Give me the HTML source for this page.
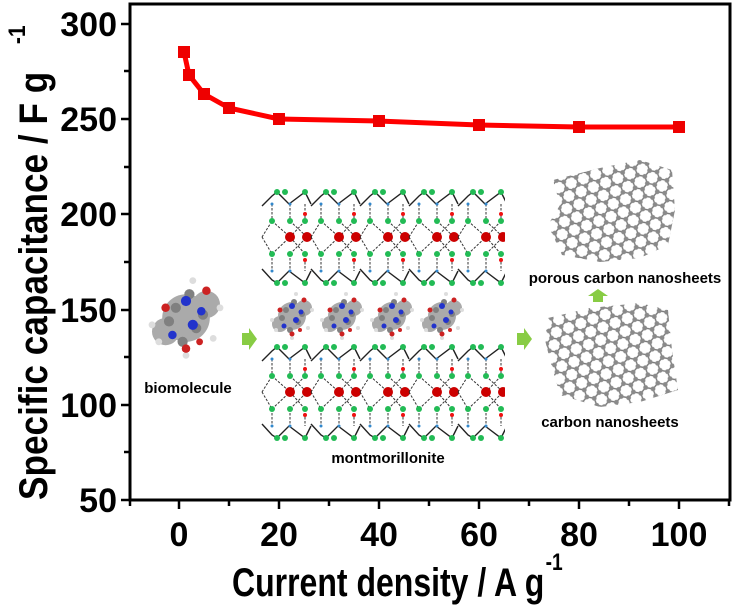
<!DOCTYPE html>
<html><head><meta charset="utf-8"><style>
html,body{margin:0;padding:0;background:#fff;}
svg{display:block;}
text{font-family:"Liberation Sans",sans-serif;font-weight:bold;fill:#000;}
</style></head><body>
<svg width="735" height="607" viewBox="0 0 735 607" xmlns="http://www.w3.org/2000/svg">
<defs>
<pattern id="hex" width="12.99" height="22.5" patternUnits="userSpaceOnUse" patternTransform="rotate(-20)">
 <g stroke="#777" stroke-width="1.4" fill="none">
  <path d="M6.5 0 L0 3.75 L0 11.25 L6.5 15 L13 11.25 L13 3.75 Z M6.5 15 L6.5 22.5"/>
 </g>
 <g fill="#8a8a8a">
  <circle cx="6.5" cy="0" r="2.4"/><circle cx="0" cy="3.75" r="2.4"/><circle cx="13" cy="3.75" r="2.4"/>
  <circle cx="0" cy="11.25" r="2.4"/><circle cx="13" cy="11.25" r="2.4"/><circle cx="6.5" cy="15" r="2.4"/><circle cx="6.5" cy="22.5" r="2.4"/>
 </g>
</pattern>
<g id="unit">
 <g stroke="#222" stroke-width="1.4" fill="none">
  <polyline points="0,14 10,4 15,0 27,12 43,0 49,12"/>
  <polyline points="0,77 10,88 15,91 27,79 43,91 49,79"/>
 </g>
 <g stroke="#333" stroke-width="1" stroke-dasharray="2.5,1.5" fill="none">
  <line x1="10" y1="12" x2="10" y2="29"/><line x1="28" y1="12" x2="28" y2="29"/><line x1="43" y1="12" x2="43" y2="29"/>
  <line x1="10" y1="29" x2="28" y2="45"/><line x1="28" y1="29" x2="45" y2="45"/><line x1="43" y1="29" x2="28" y2="45"/>
  <line x1="10" y1="62" x2="28" y2="45"/><line x1="28" y1="62" x2="45" y2="45"/><line x1="43" y1="62" x2="28" y2="45"/>
  <line x1="10" y1="62" x2="10" y2="79"/><line x1="28" y1="62" x2="28" y2="79"/><line x1="43" y1="62" x2="43" y2="79"/>
  <line x1="0" y1="45" x2="10" y2="29"/><line x1="0" y1="45" x2="10" y2="62"/>
 </g>
 <g fill="#22bb55">
  <circle cx="15" cy="0" r="3"/><circle cx="23" cy="0" r="3"/><circle cx="43" cy="0" r="3"/>
  <circle cx="10" cy="29" r="3"/><circle cx="28" cy="29" r="3"/><circle cx="43" cy="29" r="3"/>
  <circle cx="10" cy="62" r="3"/><circle cx="28" cy="62" r="3"/><circle cx="43" cy="62" r="3"/>
  <circle cx="15" cy="91" r="3"/><circle cx="23" cy="91" r="3"/><circle cx="43" cy="91" r="3"/>
 </g>
 <g fill="#3388cc"><circle cx="10" cy="12" r="1.5"/><circle cx="28" cy="12" r="1.5"/><circle cx="10" cy="79" r="1.5"/><circle cx="28" cy="79" r="1.5"/></g>
 <g fill="#cc0000"><circle cx="28" cy="45" r="5"/><circle cx="45" cy="45" r="5"/></g>
 <g fill="#ee1111"><circle cx="43" cy="22" r="2"/><circle cx="43" cy="68" r="2"/></g>
</g>
<g id="layer">
 <use href="#unit" x="0"/><use href="#unit" x="49"/><use href="#unit" x="98"/><use href="#unit" x="147"/><use href="#unit" x="196"/>
</g>
<g id="mol">
 <g fill="#aaa"><circle cx="0" cy="0" r="14"/><circle cx="-12" cy="8" r="8"/><circle cx="12" cy="-8" r="8"/></g>
 <g fill="#ddd"><circle cx="-20" cy="4" r="2"/><circle cx="20" cy="-6" r="2"/><circle cx="-16" cy="14" r="2"/><circle cx="16" cy="12" r="2"/><circle cx="0" cy="22" r="2"/><circle cx="4" cy="-22" r="2"/></g>
 <g fill="#808080"><circle cx="-6" cy="-6" r="3"/><circle cx="6" cy="6" r="3"/><circle cx="-10" cy="2" r="3"/><circle cx="10" cy="-2" r="3"/><circle cx="2" cy="-14" r="3"/><circle cx="-2" cy="14" r="3"/></g>
 <g fill="#2233cc"><circle cx="0" cy="-10" r="3"/><circle cx="4" cy="4" r="3"/><circle cx="-8" cy="10" r="2.5"/><circle cx="9" cy="-4" r="2.5"/></g>
 <g fill="#cc2222"><circle cx="-12" cy="-6" r="2.5"/><circle cx="12" cy="-16" r="2.5"/><circle cx="0" cy="18" r="2.5"/><circle cx="8" cy="14" r="2"/></g>
</g>
<clipPath id="c1"><polygon points="553,180 600,168 640,160 672,170 675,210 668,245 640,258 600,262 562,255 548,225 560,205"/></clipPath>
<clipPath id="c2"><polygon points="548,318 590,308 640,303 668,310 672,350 678,390 640,402 600,407 560,395 550,360 545,340"/></clipPath>
</defs>

<g stroke="#000" stroke-width="3" fill="none">
 <rect x="130" y="4" width="600" height="496"/>
</g>
<g stroke="#000" stroke-width="2.5">
 <line x1="179" y1="500" x2="179" y2="509"/><line x1="279" y1="500" x2="279" y2="509"/><line x1="379" y1="500" x2="379" y2="509"/><line x1="479" y1="500" x2="479" y2="509"/><line x1="579" y1="500" x2="579" y2="509"/><line x1="679" y1="500" x2="679" y2="509"/>
 <line x1="229" y1="500" x2="229" y2="506"/><line x1="329" y1="500" x2="329" y2="506"/><line x1="429" y1="500" x2="429" y2="506"/><line x1="529" y1="500" x2="529" y2="506"/><line x1="629" y1="500" x2="629" y2="506"/><line x1="729" y1="500" x2="729" y2="506"/>
 <line x1="130" y1="500" x2="130" y2="506"/>
 <line x1="121" y1="500" x2="130" y2="500"/><line x1="121" y1="405" x2="130" y2="405"/><line x1="121" y1="310" x2="130" y2="310"/><line x1="121" y1="214" x2="130" y2="214"/><line x1="121" y1="119" x2="130" y2="119"/><line x1="121" y1="24" x2="130" y2="24"/>
 <line x1="124" y1="452" x2="130" y2="452"/><line x1="124" y1="357" x2="130" y2="357"/><line x1="124" y1="262" x2="130" y2="262"/><line x1="124" y1="167" x2="130" y2="167"/><line x1="124" y1="71" x2="130" y2="71"/>
</g>
<g font-size="34" text-anchor="end">
 <text x="117" y="512">50</text>
 <text x="117" y="417">100</text>
 <text x="117" y="322">150</text>
 <text x="117" y="226">200</text>
 <text x="117" y="131">250</text>
 <text x="117" y="36">300</text>
</g>
<g font-size="34" text-anchor="middle">
 <text x="179" y="546">0</text><text x="279" y="546">20</text><text x="379" y="546">40</text><text x="479" y="546">60</text><text x="579" y="546">80</text><text x="679" y="546">100</text>
</g>
<g transform="translate(232,596) scale(0.8,1)">
 <text x="0" y="0" font-size="40">Current density / A g</text>
 <text x="392" y="-26" font-size="24">-1</text>
</g>
<g transform="translate(47,500) rotate(-90) scale(0.88,1)">
 <text x="0" y="0" font-size="40">Specific capacitance / F g</text>
 <text x="518" y="-22" font-size="24">-1</text>
</g>

<polyline fill="none" stroke="#ff0000" stroke-width="5" stroke-linejoin="round" points="184,52 189,75 204,94 229,108 279,119 379,121 479,125 579,127 679,127"/>
<g fill="#ee0000">
 <rect x="178" y="46" width="12" height="12"/><rect x="183" y="69" width="12" height="12"/><rect x="198" y="88" width="12" height="12"/><rect x="223" y="102" width="12" height="12"/><rect x="273" y="113" width="12" height="12"/><rect x="373" y="115" width="12" height="12"/><rect x="473" y="119" width="12" height="12"/><rect x="573" y="121" width="12" height="12"/><rect x="673" y="121" width="12" height="12"/>
</g>

<use href="#layer" x="262" y="192"/>
<use href="#layer" x="262" y="347"/>
<rect x="505" y="185" width="60" height="260" fill="#fff"/>
<use href="#mol" x="292" y="316"/>
<use href="#mol" x="342" y="316"/>
<use href="#mol" x="392" y="316"/>
<use href="#mol" x="442" y="316"/>
<g transform="translate(186,318) scale(1.7)"><use href="#mol"/></g>
<text x="188" y="393" font-size="15" text-anchor="middle">biomolecule</text>
<text x="388" y="463" font-size="15" text-anchor="middle">montmorillonite</text>
<text x="625" y="283" font-size="15" text-anchor="middle">porous carbon nanosheets</text>
<text x="610" y="427" font-size="15" text-anchor="middle">carbon nanosheets</text>
<rect x="540" y="155" width="140" height="110" fill="url(#hex)" clip-path="url(#c1)"/>
<rect x="540" y="300" width="145" height="110" fill="url(#hex)" clip-path="url(#c2)"/>
<g fill="#88cc44">
 <polygon points="242,333 249,333 249,328 257,339 249,350 249,345 242,345"/>
 <polygon points="517,333 524,333 524,328 532,339 524,350 524,345 517,345"/>
 <polygon points="593,302 593,296 588,296 598,289 608,296 603,296 603,302"/>
</g>
</svg>
</body></html>
